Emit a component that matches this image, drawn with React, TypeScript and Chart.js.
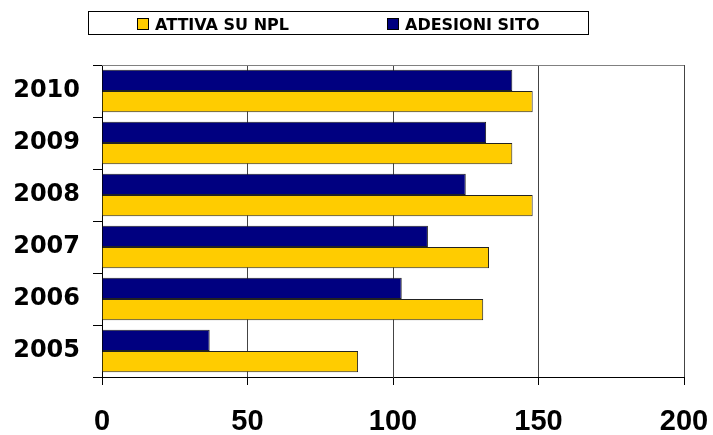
import React, { useEffect, useRef } from 'react';
import { Chart, registerables } from 'chart.js';

Chart.register(...registerables);

const categories = ['2010', '2009', '2008', '2007', '2006', '2005'];
const adesioniSito = [141, 132, 125, 112, 103, 37];
const attivaSuNpl = [148, 141, 148, 133, 131, 88];
const seriesLabels = ['ADESIONI SITO', 'ATTIVA SU NPL'];
const seriesColors = ['#000080', '#FFCC00'];
const legendOrder = [1, 0];
const xMin = 0;
const xMax = 200;
const xStep = 50;

const boxLegend = {
  id: 'boxLegend',
  afterDraw(chart: any) {
    const ctx = chart.ctx;
    ctx.save();
    // top frame line of plot area
    const a = chart.chartArea;
    ctx.strokeStyle = '#808080';
    ctx.lineWidth = 1;
    ctx.beginPath();
    ctx.moveTo(a.left, Math.round(a.top) + 0.5);
    ctx.lineTo(a.right, Math.round(a.top) + 0.5);
    ctx.stroke();
    // legend box
    ctx.strokeStyle = '#000';
    ctx.strokeRect(88.5, 11.5, 500, 23);
    const xs = [137, 387];
    legendOrder.forEach((di, i) => {
      const ds = chart.data.datasets[di];
      ctx.fillStyle = ds.backgroundColor;
      ctx.fillRect(xs[i] + 0.5, 18.5, 11, 11);
      ctx.strokeStyle = '#000';
      ctx.strokeRect(xs[i] + 0.5, 18.5, 11, 11);
      ctx.fillStyle = '#000';
      ctx.font = 'bold 16px "DejaVu Sans"';
      ctx.textBaseline = 'alphabetic';
      ctx.textAlign = 'left';
      ctx.fillText(ds.label, xs[i] + 18, 29.5);
    });
    ctx.restore();
  },
};

export default function App() {
  const ref = useRef<HTMLCanvasElement>(null);
  useEffect(() => {
    if (!ref.current) return;
    const chart = new Chart(ref.current, {
      type: 'bar',
      data: {
        labels: categories,
        datasets: [
          {
            label: seriesLabels[0],
            data: adesioniSito,
            backgroundColor: seriesColors[0],
            borderColor: '#222',
            borderWidth: 1,
            categoryPercentage: 0.82,
            barPercentage: 1,
          },
          {
            label: seriesLabels[1],
            data: attivaSuNpl,
            backgroundColor: seriesColors[1],
            borderColor: '#222',
            borderWidth: 1,
            categoryPercentage: 0.82,
            barPercentage: 1,
          },
        ],
      },
      options: {
        indexAxis: 'y',
        responsive: false,
        animation: false,
        layout: { padding: { top: 65, right: 29, left: 0, bottom: 0 } },
        plugins: {
          legend: { display: false },
          tooltip: { enabled: false },
        },
        scales: {
          x: {
            min: xMin,
            max: xMax,
            ticks: {
              stepSize: xStep,
              color: '#000',
              padding: 20,
              font: { family: '"Liberation Sans", Arial, sans-serif', size: 29, weight: 'bold' },
            },
            grid: {
              color: '#444',
              tickColor: '#000',
              tickLength: 8,
            },
            border: { color: '#000' },
            afterFit(scale: any) {
              scale.height = 58;
              scale.paddingLeft = 0;
              scale.paddingRight = 0;
            },
          },
          y: {
            ticks: {
              color: '#000',
              padding: 13,
              font: { family: '"DejaVu Sans", sans-serif', size: 24, weight: 'bold' },
            },
            grid: {
              drawOnChartArea: false,
              tickColor: '#000',
              tickLength: 9,
              offset: true,
            },
            border: { color: '#000' },
            afterFit(scale: any) {
              scale.width = 102;
              scale.paddingTop = 0;
              scale.paddingBottom = 0;
            },
          },
        },
      },
      plugins: [boxLegend],
    });
    return () => chart.destroy();
  }, []);
  return (
    <div style={{ position: 'fixed', left: 0, top: 0, width: 713, height: 435, background: '#fff' }}>
      <canvas ref={ref} width={713} height={435} />
    </div>
  );
}
